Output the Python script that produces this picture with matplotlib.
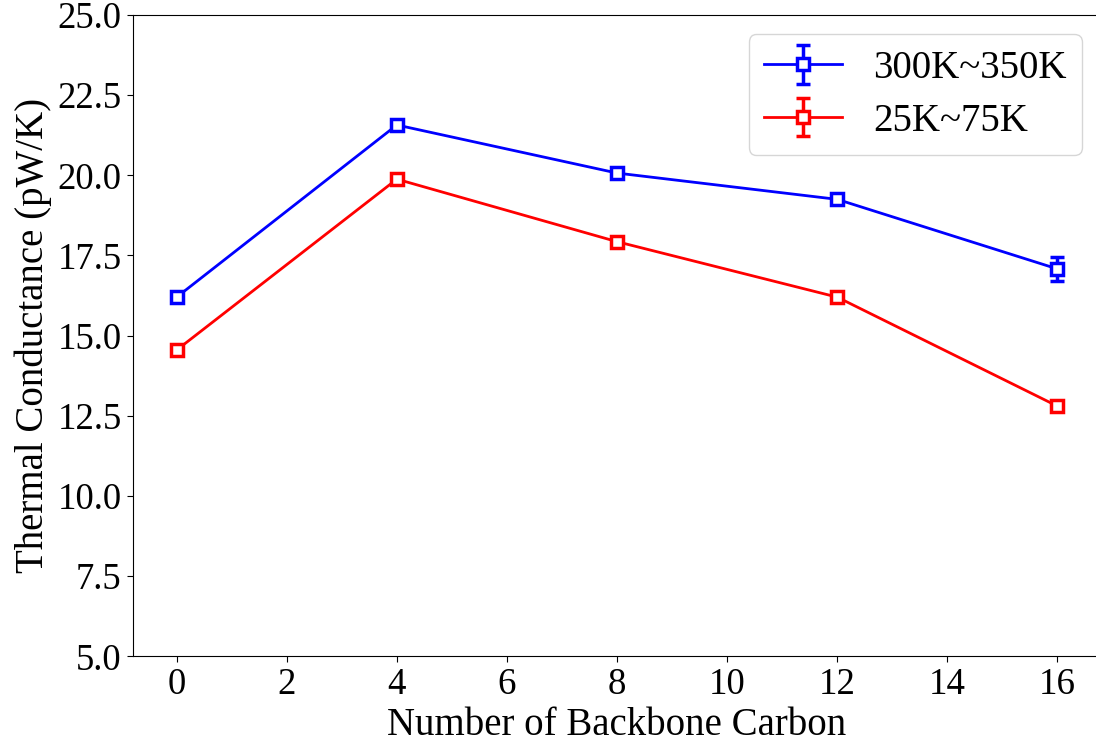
import matplotlib
matplotlib.use("Agg")
import matplotlib.pyplot as plt

# Thermal conductance vs. backbone carbon count, two temperature windows
carbons = [0, 4, 8, 12, 16]

g_high = [16.2, 21.57, 20.07, 19.25, 17.08]   # 300K~350K
g_high_err = [0.08, 0.15, 0.15, 0.15, 0.38]

g_low = [14.55, 19.88, 17.93, 16.2, 12.8]     # 25K~75K
g_low_err = [0.05, 0.05, 0.05, 0.05, 0.05]

plt.rcParams['font.family'] = ['Liberation Serif', 'DejaVu Serif']
plt.rcParams['font.size'] = 28
plt.rcParams['xtick.labelsize'] = 26.5
plt.rcParams['ytick.labelsize'] = 26.5
plt.rcParams['xtick.major.size'] = 4.5
plt.rcParams['ytick.major.size'] = 4.5

fig, ax = plt.subplots(figsize=(10.96, 7.5), dpi=100)
# axes run slightly past the right edge of the canvas
fig.subplots_adjust(left=0.121, right=1.005, top=0.98, bottom=0.125)

ax.errorbar(carbons, g_high, yerr=g_high_err, color='blue', marker='s',
            markersize=9, markerfacecolor='white', markeredgewidth=2.5,
            linewidth=2, elinewidth=2.5, capsize=5, capthick=2.5,
            label='300K~350K')
ax.errorbar(carbons, g_low, yerr=g_low_err, color='red', marker='s',
            markersize=9, markerfacecolor='white', markeredgewidth=2.5,
            linewidth=2, elinewidth=2.5, capsize=5, capthick=2.5,
            label='25K~75K')

ax.set_ylim(5, 25)
ax.set_yticks([5, 7.5, 10, 12.5, 15, 17.5, 20, 22.5, 25])
ax.set_yticklabels(['5.0', '7.5', '10.0', '12.5', '15.0', '17.5', '20.0', '22.5', '25.0'])
ax.set_xticks(range(0, 17, 2))
ax.set_xlim(-0.8, 16.8)

ax.set_xlabel('Number of Backbone Carbon')
ax.set_ylabel('Thermal Conductance (pW/K)')
ax.legend(loc='upper right', labelspacing=0.4)

fig.savefig('out.png')
